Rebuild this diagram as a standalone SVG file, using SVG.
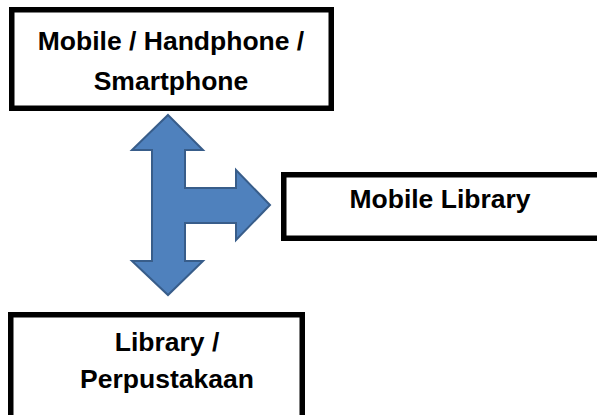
<svg xmlns="http://www.w3.org/2000/svg" width="597" height="415" viewBox="0 0 597 415">
<style>
.box{fill:#ffffff;stroke:#000000;stroke-width:5.5}
.t{font-family:"Liberation Sans",Arial,sans-serif;font-weight:bold;font-size:26.5px;fill:#000000;text-anchor:middle}
.arrow{fill:#4F81BD;stroke:#385D8A;stroke-width:2;stroke-linejoin:miter}
</style>
<rect width="597" height="415" fill="#ffffff"/>
<g id="connectors">
<path class="arrow" d="M168,115 L203,150 L185,150 L185,188 L236,188 L236,170 L270,205 L236,240 L236,223 L185,223 L185,261 L203,261 L168,295 L132,261 L152,261 L152,150 L132,150 Z"/>
</g>
<g id="node-mobile">
<rect class="box" x="11.75" y="9.75" width="319.5" height="98.5"/>
<text class="t" x="171" y="50">Mobile / Handphone /</text>
<text class="t" x="171" y="90">Smartphone</text>
</g>
<g id="node-mobile-library">
<rect class="box" x="283.75" y="174.75" width="330" height="63.5"/>
<text class="t" x="440" y="208">Mobile Library</text>
</g>
<g id="node-library">
<rect class="box" x="10.75" y="314.75" width="291.5" height="120"/>
<text class="t" x="167" y="351">Library /</text>
<text class="t" x="167" y="388">Perpustakaan</text>
</g>
</svg>
